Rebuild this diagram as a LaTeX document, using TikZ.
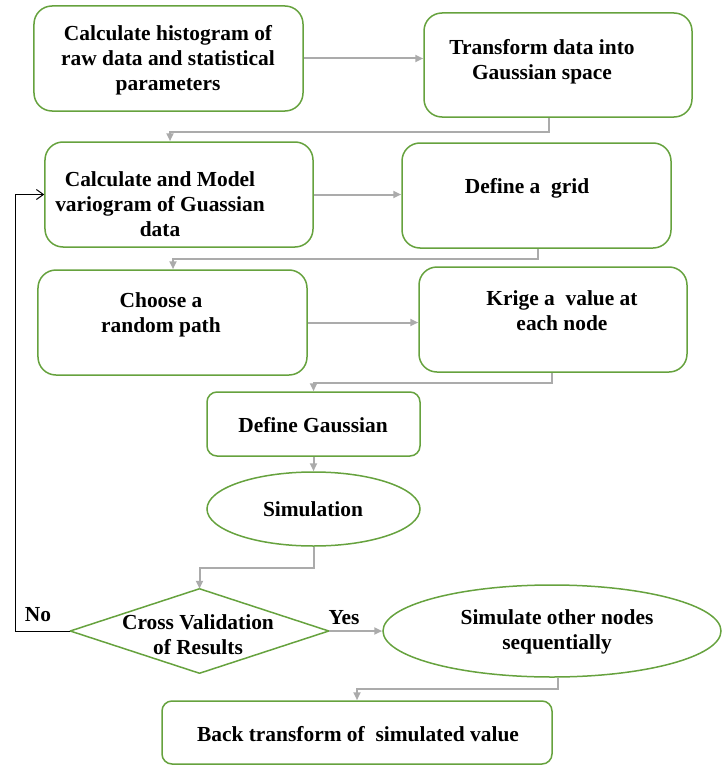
\documentclass[tikz,border=0pt]{standalone}
\usepackage{fontspec}
\setmainfont{Liberation Serif}
\usetikzlibrary{arrows.meta,shapes.geometric,calc}
\definecolor{boxgreen}{HTML}{66A23E}
\definecolor{linegray}{HTML}{ABABAB}
\begin{document}
\begin{tikzpicture}[x=1bp,y=-1bp,
  base/.style={draw=boxgreen,line width=1.5bp,inner sep=0pt},
  rbox/.style={base,rectangle,rounded corners=18bp},
  sbox/.style={base,rectangle,rounded corners=10bp},
  ell/.style={base,ellipse},
  txt/.style={align=center,font=\fontsize{21.5}{25}\selectfont\bfseries,inner sep=0pt},
  gc/.style={draw=linegray,line width=2bp,-{Triangle[length=8bp,width=7bp]}},
  bc/.style={draw=black,line width=1bp,-{Straight Barb[length=7bp,width=10bp]}}]
\useasboundingbox (0,0) rectangle (722,765);
% boxes
\node[rbox,minimum width=269bp,minimum height=105bp] (b1) at (168.5,58.5) {};
\node[rbox,minimum width=268bp,minimum height=104bp] (b2) at (558,65) {};
\node[rbox,minimum width=268bp,minimum height=105bp] (b3) at (179,194.5) {};
\node[rbox,minimum width=269bp,minimum height=105bp] (b4) at (536.5,195.5) {};
\node[rbox,minimum width=269bp,minimum height=105bp] (b5) at (172.5,322.5) {};
\node[rbox,minimum width=268bp,minimum height=105bp] (b6) at (553,319.5) {};
\node[sbox,minimum width=213bp,minimum height=64bp] (b7) at (313.5,424) {};
\node[ell,minimum width=213bp,minimum height=74bp] (e1) at (313.5,509) {};
\node[base,draw=none,minimum width=257bp,minimum height=83bp] (d1) at (199.5,631) {};
\draw[boxgreen,line width=1.5bp,line join=round] (d1.north) -- (d1.east) -- (d1.south) -- (d1.west) -- cycle;
\node[ell,minimum width=338bp,minimum height=92bp] (e2) at (552,631) {};
\node[sbox,minimum width=390bp,minimum height=63bp] (b8) at (357,732.5) {};
% texts
\node[txt] (t1) at (168,60) {Calculate histogram of\\raw data and statistical\\parameters};
\node[txt] (t2) at (542,61.5) {Transform data into\\Gaussian space};
\node[txt] (t3) at (160,204) {Calculate and Model\\variogram of Guassian\\data};
\node[txt] (t4) at (527,188) {Define a\ \ grid};
\node[txt] (t5) at (161,314.5) {Choose a\\random path};
\node[txt] (t6) at (562,310.5) {Krige a\ \ value at\\each node};
\node[txt] (t7) at (313,425) {Define Gaussian};
\node[txt] (t8) at (313,509) {Simulation};
\node[txt] (t9) at (198,635) {Cross Validation\\of Results};
\node[txt] (t10) at (557,632) {Simulate other nodes\\sequentially};
\node[txt] (t11) at (358,734) {Back transform of\ \ simulated value};
\node[txt] (no) at (38,615) {No};
\node[txt] (yes) at (344,618) {Yes};
% connectors
\draw[gc] (b1.east) -- (b1.east -| b2.west);
\draw[gc] ([xshift=-9bp]b2.south) -- ++(0,14) -| ([xshift=-9bp]b3.north);
\draw[gc] (b3.east) -- (b3.east -| b4.west);
\draw[gc] ([xshift=1.5bp]b4.south) -- ++(0,10) -| ([xshift=0.5bp]b5.north);
\draw[gc] (b5.east) -- (b5.east -| b6.west);
\draw[gc] ([xshift=-1bp]b6.south) -- ++(0,10) -| (b7.north);
\draw[gc] (b7.south) -- (e1.north);
\draw[gc] (e1.south) -- ++(0,21) -| (d1.north);
\draw[gc] (d1.east) -- (e2.west);
\draw[gc] ([xshift=6bp]e2.south) -- ++(0,11) -| (b8.north);
\draw[bc] (d1.west) -- ++(-55,0) |- (b3.west);
\end{tikzpicture}
\end{document}
